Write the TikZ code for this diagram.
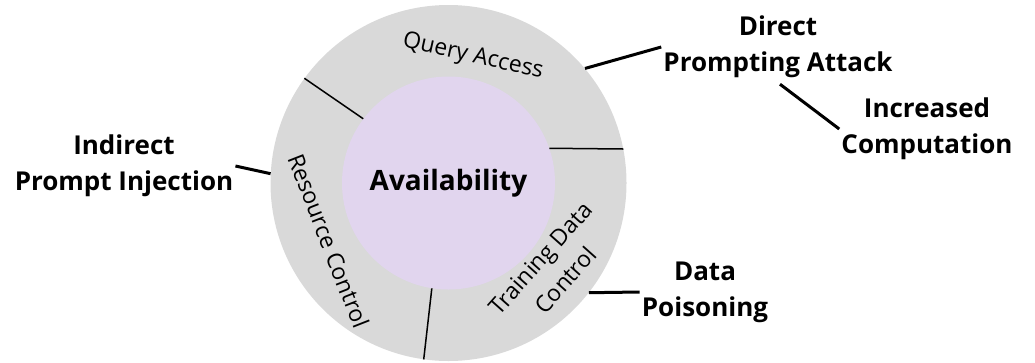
\documentclass[tikz,border=0pt]{standalone}
\usepackage{fontspec}
\setmainfont{Open Sans}
\usetikzlibrary{positioning}
\definecolor{Gris}{RGB}{217, 217, 217}
\definecolor{Lila}{RGB}{225, 213, 238}

\begin{document}
\begin{tikzpicture}[x=1pt, y=1pt,
        ring/.style={circle, fill=Gris, minimum size=356pt, inner sep=0pt},
        core/.style={circle, fill=Lila, minimum size=213pt, inner sep=0pt, font=\bfseries\fontsize{28}{36}\selectfont},
        sector/.style={align=center, inner sep=0pt, font=\fontsize{23}{33}\selectfont},
        attack/.style={align=center, inner sep=2pt, font=\bfseries\fontsize{26}{36}\selectfont},
        link/.style={line width=3pt, draw=black},
        divider/.style={line width=1.5pt, draw=black}
    ]
        \useasboundingbox (0,0) rectangle (1035,-362);

        % ================= ANILLO Y NUCLEO =================
        \node[ring] (ring) at (448.5,-183) {};
        \node[core] (core) at (448.5,-183) {Availability};

        % Divisiones del anillo
        \draw[divider] (core.143) -- (ring.144);
        \draw[divider] (core.19.2) -- (ring.11.3);
        \draw[divider] (core.-99.5) -- (ring.-98);

        % Etiquetas de los sectores
        \node[sector, rotate=-12.5] (query) at (473,-57) {Query Access};
        \node[sector, rotate=-68.6] (resource) at (329,-241) {Resource Control};
        \node[sector, rotate=48.3] (training) at (553,-269) {Training Data\\Control};

        % ================= ATAQUES =================
        \node[attack] (dpa) at (778,-47) {Direct\\Prompting Attack};
        \node[attack] (inc) at (927,-129) {Increased\\Computation};
        \node[attack] (ipi) at (124,-166) {Indirect\\Prompt Injection};
        \node[attack] (dpo) at (705,-292) {Data\\Poisoning};

        \draw[link] (ring.40) -- (dpa.west);
        \draw[link] (dpa.south) ++(2,-4) coordinate (dpa_b) -- (inc.west);
        \draw[link] (ipi.east) -- (ring.177);
        \draw[link] (ring.-38) -- (dpo.west);
    \end{tikzpicture}
\end{document}
